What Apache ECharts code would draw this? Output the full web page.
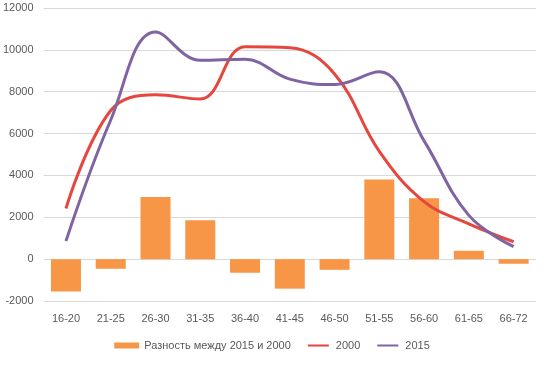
<!DOCTYPE html>
<html><head><meta charset="utf-8">
<script src="https://cdn.jsdelivr.net/npm/echarts@6/dist/echarts.min.js"></script>
<style>html,body{margin:0;padding:0;background:#fff}#c{width:544px;height:366px}</style>
</head><body><div id="c"></div>
<script>
const categories = ['16-20','21-25','26-30','31-35','36-40','41-45','46-50','51-55','56-60','61-65','66-72'];
const diffValues = [-1550,-460,2970,1860,-650,-1410,-510,3800,2910,400,-220];
const values2000 = [2420,7100,7850,7650,10150,10100,8850,5150,2750,1690,830];
const values2015 = [870,6650,10850,9500,9550,8600,8340,8950,5650,2090,600];
const yTicks = {min:-2000, max:12000, interval:2000};
const names = ['Разность между 2015 и 2000','2000','2015'];

const lineIcon = 'path://M0,0L0.01,0L0.01,0.01Z M0,2.6L28,2.6L28,5.4L0,5.4Z M0,8L0.01,8L0.01,7.99Z';
const chart = echarts.init(document.getElementById('c'), null, {renderer:'canvas'});
const font = 'Liberation Sans';
chart.setOption({
  animation:false,
  textStyle:{fontFamily:font},
  grid:{left:42,right:8,top:8,bottom:65,containLabel:false},
  legend:{
    bottom:10, left:'center', itemWidth:25, itemHeight:6, itemGap:17,
    textStyle:{color:'#595959',fontSize:11,fontFamily:font},
    data:[{name:names[0],icon:'rect'},{name:names[1],icon:lineIcon},{name:names[2],icon:lineIcon}]
  },
  xAxis:{
    type:'category', data:categories,
    axisLine:{show:false}, axisTick:{show:false},
    axisLabel:{color:'#595959',fontSize:11,fontFamily:font,margin:12}
  },
  yAxis:{
    type:'value', min:yTicks.min, max:yTicks.max, interval:yTicks.interval,
    axisLine:{show:false}, axisTick:{show:false},
    splitLine:{lineStyle:{color:'#d9d9d9',width:1}},
    axisLabel:{color:'#595959',fontSize:11,fontFamily:font,margin:10,formatter:v=>String(v)}
  },
  series:[
    {name:names[0],type:'bar',data:diffValues,barWidth:30,itemStyle:{color:'#F79646'}},
    {name:names[1],type:'line',data:values2000,smooth:0.4,symbol:'none',
      lineStyle:{color:'#E5473F',width:3},itemStyle:{color:'#E5473F'}},
    {name:names[2],type:'line',data:values2015,smooth:0.4,symbol:'none',
      lineStyle:{color:'#8064A2',width:3},itemStyle:{color:'#8064A2'}}
  ]
});
</script></body></html>
